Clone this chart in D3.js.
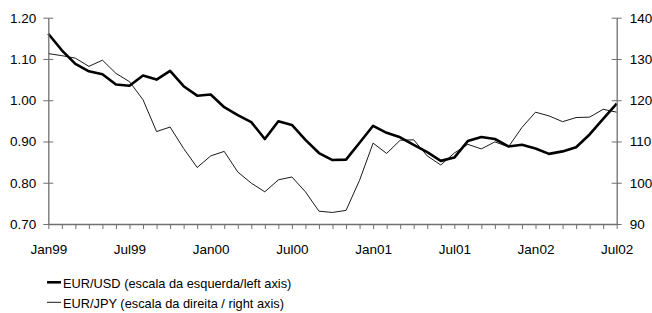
<!DOCTYPE html>
<html><head><meta charset="utf-8">
<script src="https://cdn.jsdelivr.net/npm/d3@7"></script>
<style>
body{margin:0;background:#fff;}
svg{display:block;font-family:Arial,"Liberation Sans",sans-serif;}
</style></head>
<body><svg id="c" width="652" height="313"></svg>
<script>
const months = ["Jan99","Feb99","Mar99","Apr99","May99","Jun99","Jul99","Aug99","Sep99","Oct99","Nov99","Dec99",
"Jan00","Feb00","Mar00","Apr00","May00","Jun00","Jul00","Aug00","Sep00","Oct00","Nov00","Dec00",
"Jan01","Feb01","Mar01","Apr01","May01","Jun01","Jul01","Aug01","Sep01","Oct01","Nov01","Dec01",
"Jan02","Feb02","Mar02","Apr02","May02","Jun02","Jul02"];
const eurUsd = [1.161,1.121,1.088,1.070,1.063,1.038,1.035,1.060,1.050,1.071,1.034,1.011,
1.014,0.983,0.964,0.947,0.906,0.949,0.940,0.904,0.872,0.855,0.856,0.897,
0.938,0.921,0.910,0.892,0.874,0.853,0.861,0.901,0.911,0.906,0.888,0.892,
0.883,0.870,0.876,0.886,0.917,0.955,0.992];
const eurJpy = [131.3,130.8,130.2,128.2,129.7,126.5,124.5,120.1,112.4,113.5,108.3,103.7,
106.5,107.6,102.6,99.9,97.8,100.7,101.4,97.8,93.1,92.8,93.3,100.6,
109.6,107.1,110.3,110.4,106.5,104.3,107.2,109.3,108.2,109.9,108.7,113.4,
117.1,116.2,114.8,115.8,115.9,117.8,117.1];
const leftTicks = [0.70,0.80,0.90,1.00,1.10,1.20];
const rightTicks = [90,100,110,120,130,140];
const seriesNames = ["EUR/USD (escala da esquerda/left axis)","EUR/JPY (escala da direita / right axis)"];

const svg = d3.select("#c");
const x = d3.scaleLinear().domain([0, months.length-1]).range([48.3, 616.7]);
const yL = d3.scaleLinear().domain([0.70,1.20]).range([224,17.7]);
const yR = d3.scaleLinear().domain([90,140]).range([224,17.7]);
const axisCol = "#707070";

// lines
svg.append("path").datum(eurJpy)
  .attr("fill","none").attr("stroke","#000").attr("stroke-width",0.9)
  .attr("d", d3.line().x((d,i)=>x(i)).y(d=>yR(d)));
svg.append("path").datum(eurUsd)
  .attr("fill","none").attr("stroke","#000").attr("stroke-width",2.6).attr("stroke-linejoin","round")
  .attr("d", d3.line().x((d,i)=>x(i)).y(d=>yL(d)));

// left axis
const gl = svg.append("g").attr("transform","translate(48.3,0)")
  .call(d3.axisLeft(yL).tickValues(leftTicks).tickFormat(d3.format(".2f")).tickSize(5).tickSizeOuter(0));
gl.selectAll(".tick line").attr("x2",-5).attr("x1",5);
// right axis
const gr = svg.append("g").attr("transform","translate(616.7,0)")
  .call(d3.axisRight(yR).tickValues(rightTicks).tickFormat(d3.format("d")).tickSize(5).tickSizeOuter(0));
gr.selectAll(".tick line").attr("x1",-5).attr("x2",5);
// bottom axis
const gb = svg.append("g").attr("transform","translate(0,224)")
  .call(d3.axisBottom(x).tickValues(d3.range(months.length)).tickSize(5).tickSizeOuter(0)
    .tickFormat(i => i % 6 === 0 ? months[i] : ""));
gb.selectAll(".tick text").attr("dy","1.6em");

[gl,gr,gb].forEach(g=>{
  g.select(".domain").attr("stroke",axisCol).attr("stroke-width",1.3);
  g.selectAll(".tick line").attr("stroke",axisCol).attr("stroke-width",1);
  g.selectAll(".tick text").attr("fill","#000").attr("font-size",13.5).attr("font-family","Arial, 'Liberation Sans', sans-serif");
});
gl.selectAll(".tick text").attr("x",-12);
gr.selectAll(".tick text").attr("x",13);

// legend
const leg = svg.append("g");
seriesNames.forEach((n,k)=>{
  const yy = 282.3 + k*20;
  leg.append("line").attr("x1",47).attr("x2",61).attr("y1",yy).attr("y2",yy)
    .attr("stroke","#000").attr("stroke-width", k===0 ? 2.6 : 0.9);
  leg.append("text").attr("x",63).attr("y",yy+5.5).attr("font-size",12.8).text(n);
});
</script></body></html>
